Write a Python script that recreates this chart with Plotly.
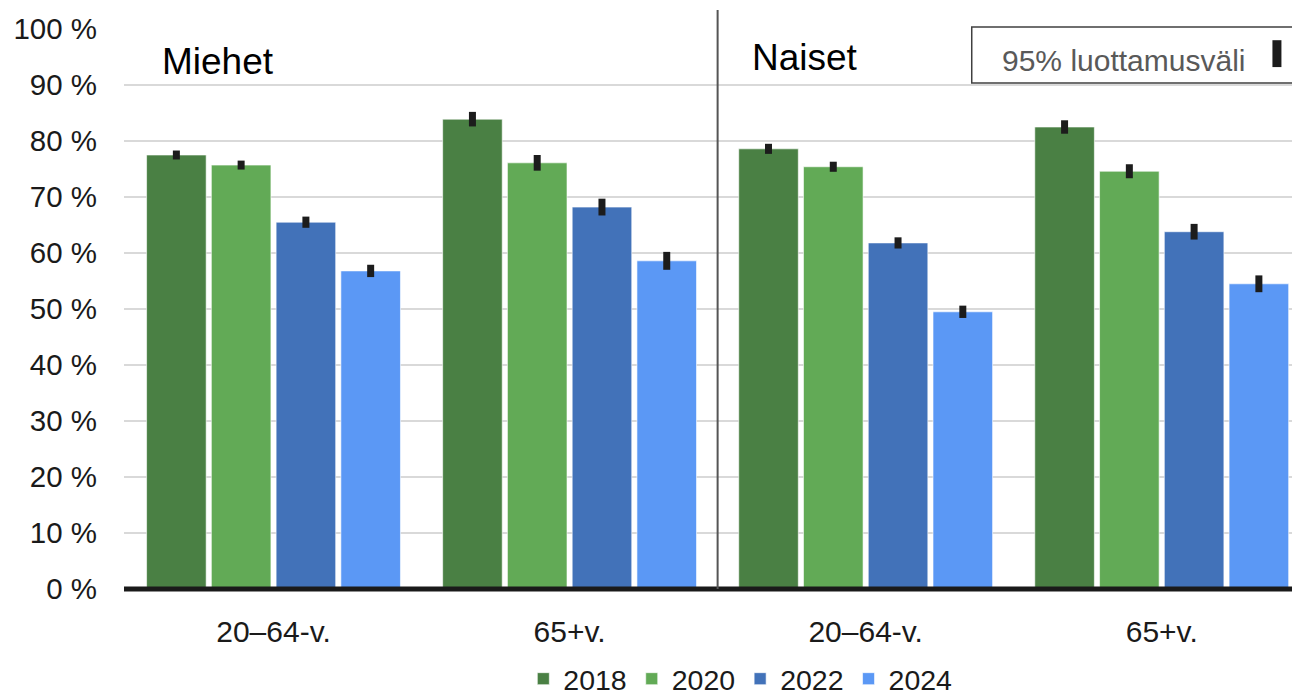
import plotly.graph_objects as go

groups = ["20–64-v.", "65+v.", "20–64-v.", "65+v."]
years = ["2018", "2020", "2022", "2024"]
values = {
    "2018": [77.5, 83.9, 78.6, 82.5],
    "2020": [75.7, 76.1, 75.4, 74.6],
    "2022": [65.5, 68.2, 61.8, 63.8],
    "2024": [56.8, 58.6, 49.5, 54.5],
}
errors = {
    "2018": [0.8, 1.3, 0.9, 1.2],
    "2020": [0.8, 1.4, 0.9, 1.25],
    "2022": [1.0, 1.5, 1.0, 1.4],
    "2024": [1.1, 1.6, 1.1, 1.5],
}
colors = {"2018": "#4a8044", "2020": "#62aa56", "2022": "#4272b9", "2024": "#5b98f5"}
yticks = list(range(0, 101, 10))

xpos = list(range(len(groups)))
FONT = "Liberation Sans, Arial, sans-serif"

fig = go.Figure()
for yr in years:
    fig.add_trace(go.Bar(
        x=xpos, y=values[yr], name=yr,
        marker=dict(color=colors[yr], line=dict(color="rgba(255,255,255,0.6)", width=1)),
        error_y=dict(type="data", array=errors[yr], visible=True,
                     color="#1c1c1c", thickness=7, width=0),
    ))

fig.update_layout(
    width=1292, height=698,
    margin=dict(l=124, r=0, t=29, b=109),
    paper_bgcolor="white", plot_bgcolor="white",
    barmode="group", bargap=0.125, bargroupgap=0.08,
    font=dict(family=FONT, size=29, color="#1a1a1a"),
    showlegend=True,
    legend=dict(orientation="h", xref="container", yref="container",
                x=0.573, xanchor="center", y=0.027, yanchor="middle",
                font=dict(size=28.5, color="#1a1a1a"), itemwidth=30,
                traceorder="normal"),
    xaxis=dict(range=[-0.505, 3.44], tickvals=xpos, ticktext=groups,
               showgrid=False, zeroline=False, showline=False,
               ticks="outside", ticklen=16, tickcolor="rgba(0,0,0,0)",
               tickfont=dict(size=30)),
    yaxis=dict(range=[0, 100], tickvals=yticks,
               ticktext=[f"{v} %" for v in yticks],
               showgrid=True, gridcolor="#d9d9d9", gridwidth=2,
               zeroline=False, showline=False,
               ticks="outside", ticklen=20, tickcolor="rgba(0,0,0,0)",
               tickfont=dict(size=29.5)),
)

# bottom axis line
fig.add_shape(type="line", xref="paper", yref="paper", x0=0, x1=1, y0=0, y1=0,
              line=dict(color="#1a1a1a", width=5))
# divider between Miehet and Naiset
fig.add_shape(type="line", xref="x", yref="paper", x0=1.5, x1=1.5, y0=0, y1=1.034,
              line=dict(color="#555555", width=2))
# confidence interval legend box
fig.add_shape(type="rect", xref="paper", yref="paper", x0=0.7258, x1=1.02, y0=0.9036, y1=1.0036,
              line=dict(color="#404040", width=1.5), fillcolor="white")
fig.add_shape(type="line", xref="paper", yref="paper", x0=0.9871, x1=0.9871, y0=0.932, y1=0.980,
              line=dict(color="#1c1c1c", width=9))
fig.add_annotation(xref="paper", yref="paper", x=0.8556, y=0.943, text="95% luottamusväli",
                   showarrow=False, xanchor="center", yanchor="middle",
                   font=dict(size=30, color="#595959"))
fig.add_annotation(xref="x", yref="y", x=-0.384, y=94.2, text="Miehet", showarrow=False,
                   xanchor="left", yanchor="middle", font=dict(size=37, color="black"))
fig.add_annotation(xref="x", yref="y", x=1.61, y=94.9, text="Naiset", showarrow=False,
                   xanchor="left", yanchor="middle", font=dict(size=37, color="black"))

fig.write_html("out.html", config={"displayModeBar": False},
               post_script="document.body.style.margin='0';document.body.style.overflow='hidden';")
